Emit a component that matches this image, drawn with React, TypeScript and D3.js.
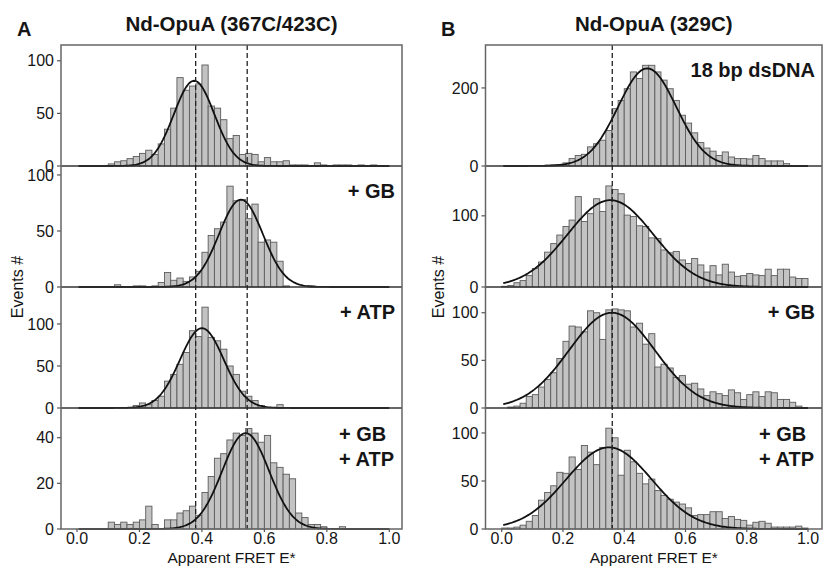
import React, { useEffect, useRef } from 'react';
import * as d3 from 'd3';

const WIDTH = 823;
const HEIGHT = 571;

// 50 bins of width 0.02 over apparent FRET E* 0..1
const binWidth = 0.02;
const xTicks = [0, 0.2, 0.4, 0.6, 0.8, 1.0];

// Panel A - Nd-OpuA (367C/423C), counts per bin
const aApo = [0, 0, 0, 0, 0, 2, 4, 5, 7, 9, 12, 15, 11, 21, 35, 55, 84, 72, 76, 78, 96, 57, 55, 44, 26, 29, 11, 12, 11, 4, 8, 4, 4, 5, 1, 1, 1, 0, 3, 1, 0, 1, 1, 1, 0, 1, 0, 1, 0, 0];
const aGB = [0, 0, 0, 0, 0, 0, 2, 0, 0, 1, 1, 0, 1, 4, 13, 6, 8, 5, 9, 14, 31, 46, 52, 58, 90, 77, 78, 61, 74, 40, 42, 40, 23, 1, 0, 0, 0, 1, 0, 0, 0, 0, 0, 0, 0, 0, 0, 0, 0, 0];
const aATP = [0, 0, 0, 0, 0, 0, 0, 0, 0, 3, 6, 4, 9, 14, 32, 40, 52, 66, 92, 85, 120, 84, 80, 70, 50, 40, 20, 14, 9, 3, 0, 0, 4, 0, 0, 0, 0, 0, 0, 0, 0, 0, 0, 0, 0, 0, 0, 0, 0, 0];
const aGBATP = [0, 0, 0, 0, 0, 3, 2, 3, 2, 3, 4, 10, 2, 0, 4, 4, 7, 8, 10, 6, 16, 23, 31, 33, 39, 42, 41, 44, 42, 38, 41, 29, 27, 24, 22, 7, 5, 2, 2, 1, 0, 0, 1, 0, 0, 0, 0, 0, 0, 0];

// Panel B - Nd-OpuA (329C)
const bDNA = [0, 0, 0, 0, 0, 1, 1, 2, 3, 4, 8, 19, 27, 30, 49, 57, 66, 91, 147, 168, 198, 241, 224, 258, 258, 241, 220, 198, 168, 130, 110, 85, 60, 46, 38, 27, 36, 23, 19, 19, 18, 27, 19, 13, 13, 13, 6, 1, 0, 0];
const bApo = [1, 2, 6, 9, 16, 26, 35, 49, 61, 73, 85, 94, 127, 92, 103, 124, 106, 142, 137, 131, 101, 99, 86, 85, 69, 68, 52, 48, 50, 38, 33, 40, 31, 21, 30, 17, 32, 21, 15, 16, 19, 17, 16, 25, 16, 25, 25, 14, 12, 12];
const bGB = [0, 1, 2, 5, 12, 14, 22, 30, 37, 52, 70, 86, 85, 80, 102, 100, 72, 103, 104, 103, 102, 85, 89, 67, 78, 43, 46, 42, 32, 34, 25, 26, 20, 13, 17, 15, 13, 19, 16, 9, 14, 17, 12, 17, 16, 9, 9, 6, 2, 0];
const bGBATP = [1, 1, 2, 4, 8, 14, 30, 38, 45, 59, 58, 75, 62, 87, 80, 67, 85, 105, 95, 56, 82, 70, 58, 47, 52, 40, 35, 31, 28, 26, 22, 14, 15, 15, 18, 18, 11, 13, 10, 9, 4, 7, 8, 6, 2, 2, 2, 2, 3, 1];

// gaussian fits
const aFitCenter = [0.375, 0.525, 0.4, 0.54];
const aFitSigma = [0.065, 0.07, 0.07, 0.075];
const aFitPeak = [81, 78, 95, 42];
const bFitCenter = [0.475, 0.355, 0.36, 0.35];
const bFitSigma = [0.095, 0.14, 0.14, 0.14];
const bFitPeak = [250, 122, 100, 85];

const aYMax = [115, 108, 144, 53];
const aYTicks = [[0, 50, 100], [0, 50, 100], [0, 50, 100], [0, 20, 40]];
const bYMax = [310, 170, 127, 126];
const bYTicks = [[0, 200], [0, 100], [0, 50, 100], [0, 50, 100]];

const aLabels = [[], ['+ GB'], ['+ ATP'], ['+ GB', '+ ATP']];
const bLabels = [['18 bp dsDNA'], [], ['+ GB'], ['+ GB', '+ ATP']];

const aDashed = [0.38, 0.545];
const bDashed = [0.361];

const rowEdges = [45, 166, 287, 408, 529];
const FONT = '"Liberation Sans", Arial, Helvetica, sans-serif';
const INK = '#151515';

const panels = [
  {
    letter: 'A', title: 'Nd-OpuA (367C/423C)', left: 61, right: 402, x0: 77, x1: 389.3, letterX: 17, yLabelX: 18,
    counts: [aApo, aGB, aATP, aGBATP], fitC: aFitCenter, fitS: aFitSigma, fitP: aFitPeak,
    yMax: aYMax, yTicks: aYTicks, labels: aLabels, dashed: aDashed
  },
  {
    letter: 'B', title: 'Nd-OpuA (329C)', left: 485.5, right: 822, x0: 501.7, x1: 808, letterX: 441, yLabelX: 439,
    counts: [bDNA, bApo, bGB, bGBATP], fitC: bFitCenter, fitS: bFitSigma, fitP: bFitPeak,
    yMax: bYMax, yTicks: bYTicks, labels: bLabels, dashed: bDashed
  }
];

const App = () => {
  const svgRef = useRef<SVGSVGElement>(null);

  useEffect(() => {
    const svg = d3.select(svgRef.current);
    svg.selectAll('*').remove();

    svg.append('rect').attr('width', WIDTH).attr('height', HEIGHT).attr('fill', '#fff');

    panels.forEach(p => {
      const x = d3.scaleLinear().domain([0, 1]).range([p.x0, p.x1]);
      const g = svg.append('g');

      // panel letter and title
      g.append('text')
        .attr('x', p.letterX).attr('y', 36)
        .attr('font-family', FONT).attr('font-size', 20).attr('font-weight', 'bold').attr('fill', INK)
        .text(p.letter);
      g.append('text')
        .attr('x', (p.left + p.right) / 2).attr('y', 31)
        .attr('text-anchor', 'middle')
        .attr('font-family', FONT).attr('font-size', 20.5).attr('font-weight', 'bold').attr('fill', INK)
        .text(p.title);

      p.counts.forEach((counts, r) => {
        const top = rowEdges[r];
        const base = rowEdges[r + 1];
        const y = d3.scaleLinear().domain([0, p.yMax[r]]).range([base, top]);

        // histogram bars
        g.append('g')
          .selectAll('rect')
          .data(counts.map((c, i) => ({ c, i })).filter(d => d.c > 0))
          .enter()
          .append('rect')
          .attr('x', d => x(d.i * binWidth))
          .attr('width', d => x((d.i + 1) * binWidth) - x(d.i * binWidth))
          .attr('y', d => y(d.c))
          .attr('height', d => base - y(d.c))
          .attr('fill', '#c3c3c3')
          .attr('stroke', '#5c5c5c')
          .attr('stroke-width', 0.9);

        // gaussian fit
        const mu = p.fitC[r], s = p.fitS[r], a = p.fitP[r];
        const line = d3.line<number>()
          .x(e => x(e))
          .y(e => y(a * Math.exp(-((e - mu) ** 2) / (2 * s * s))));
        g.append('path')
          .datum(d3.range(0.005, 1.0001, 0.005))
          .attr('d', line)
          .attr('fill', 'none')
          .attr('stroke', '#111')
          .attr('stroke-width', 1.8);

        // y ticks
        p.yTicks[r].forEach(t => {
          g.append('line')
            .attr('x1', p.left - 4).attr('x2', p.left)
            .attr('y1', y(t)).attr('y2', y(t))
            .attr('stroke', '#555').attr('stroke-width', 1.2);
          g.append('text')
            .attr('x', p.left - 7).attr('y', y(t))
            .attr('dy', '0.35em')
            .attr('text-anchor', 'end')
            .attr('font-family', FONT).attr('font-size', 16).attr('fill', INK)
            .text(t);
        });

        // condition labels
        const lines = p.labels[r];
        if (lines.length === 1) {
          g.append('text')
            .attr('x', p.right - 7).attr('y', top + 32)
            .attr('text-anchor', 'end')
            .attr('font-family', FONT).attr('font-size', 20).attr('font-weight', 'bold').attr('fill', INK)
            .text(lines[0]);
        } else {
          lines.forEach((l, k) => {
            g.append('text')
              .attr('x', p.right - 63).attr('y', top + 33 + k * 25)
              .attr('font-family', FONT).attr('font-size', 20).attr('font-weight', 'bold').attr('fill', INK)
              .text(l);
          });
        }

        // row divider / zero line
        if (r < 3) {
          g.append('line')
            .attr('x1', p.left).attr('x2', p.right)
            .attr('y1', base).attr('y2', base)
            .attr('stroke', '#333').attr('stroke-width', 1.5);
        }
      });

      // dashed reference lines
      p.dashed.forEach(d => {
        g.append('line')
          .attr('x1', x(d)).attr('x2', x(d))
          .attr('y1', rowEdges[0]).attr('y2', rowEdges[4])
          .attr('stroke', '#222').attr('stroke-width', 1.3)
          .attr('stroke-dasharray', '5,3');
      });

      // frame
      g.append('rect')
        .attr('x', p.left).attr('y', rowEdges[0])
        .attr('width', p.right - p.left).attr('height', rowEdges[4] - rowEdges[0])
        .attr('fill', 'none').attr('stroke', '#666').attr('stroke-width', 1.5);

      // x axis ticks
      xTicks.forEach(t => {
        g.append('line')
          .attr('x1', x(t)).attr('x2', x(t))
          .attr('y1', rowEdges[4]).attr('y2', rowEdges[4] + 3)
          .attr('stroke', '#555').attr('stroke-width', 1.2);
        g.append('text')
          .attr('x', x(t)).attr('y', 544)
          .attr('text-anchor', 'middle')
          .attr('font-family', FONT).attr('font-size', 16).attr('fill', INK)
          .text(t.toFixed(1));
      });

      // axis labels
      g.append('text')
        .attr('x', (p.left + p.right) / 2).attr('y', 563)
        .attr('text-anchor', 'middle')
        .attr('font-family', FONT).attr('font-size', 15.5).attr('fill', INK)
        .text('Apparent FRET E*');
      g.append('text')
        .attr('transform', `translate(${p.yLabelX + 5},${(rowEdges[0] + rowEdges[4]) / 2}) rotate(-90)`)
        .attr('text-anchor', 'middle')
        .attr('font-family', FONT).attr('font-size', 16).attr('fill', INK)
        .text('Events #');
    });
  }, []);

  return (
    <svg
      ref={svgRef}
      width={WIDTH}
      height={HEIGHT}
      style={{ position: 'absolute', left: 0, top: 0, display: 'block' }}
    />
  );
};

export default App;
